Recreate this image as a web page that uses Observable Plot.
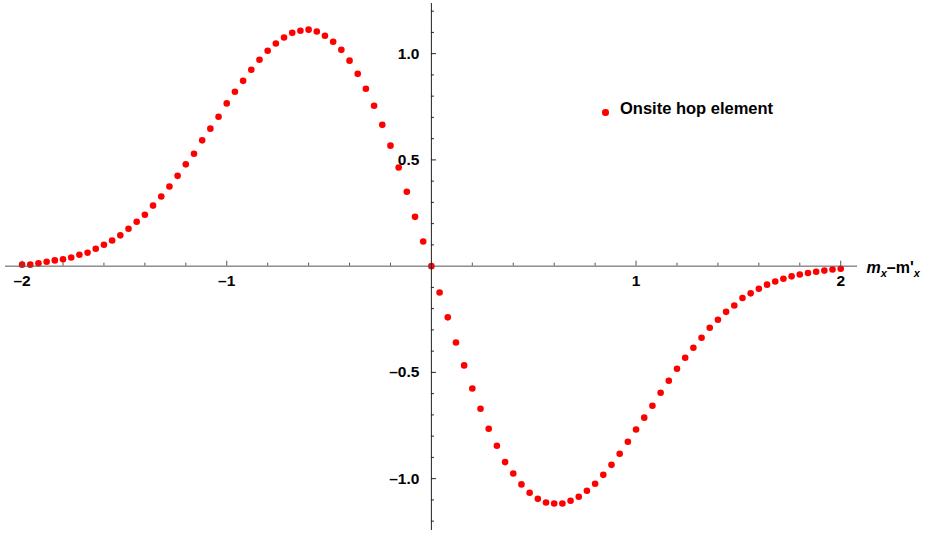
<!DOCTYPE html>
<html>
<head>
<meta charset="utf-8">
<script src="https://cdn.jsdelivr.net/npm/d3@7"></script>
<script src="https://cdn.jsdelivr.net/npm/@observablehq/plot@0.6"></script>
<style>
  body { margin: 0; background: #fff; }
  #chart { position: relative; width: 925px; height: 534px; }
  #chart svg { display: block; }
  .legend-dot { position: absolute; left: 602px; top: 109px; width: 6.5px; height: 6.5px; border-radius: 50%; background: #ff0000; }
  .legend-text { position: absolute; left: 620px; top: 99px; line-height: 22px; font: bold 16.5px "Liberation Sans", Arial, sans-serif; color: #000; white-space: nowrap; }
</style>
</head>
<body>
<div id="chart">
  <div class="legend-dot"></div>
  <div class="legend-text">Onsite hop element</div>
</div>
<script>
// Sample positions m_x − m'_x
const xs = [
  -2.00, -1.96, -1.92, -1.88, -1.84, -1.80, -1.76, -1.72, -1.68, -1.64,
  -1.60, -1.56, -1.52, -1.48, -1.44, -1.40, -1.36, -1.32, -1.28, -1.24,
  -1.20, -1.16, -1.12, -1.08, -1.04, -1.00, -0.96, -0.92, -0.88, -0.84,
  -0.80, -0.76, -0.72, -0.68, -0.64, -0.60, -0.56, -0.52, -0.48, -0.44,
  -0.40, -0.36, -0.32, -0.28, -0.24, -0.20, -0.16, -0.12, -0.08, -0.04,
   0.00,  0.04,  0.08,  0.12,  0.16,  0.20,  0.24,  0.28,  0.32,  0.36,
   0.40,  0.44,  0.48,  0.52,  0.56,  0.60,  0.64,  0.68,  0.72,  0.76,
   0.80,  0.84,  0.88,  0.92,  0.96,  1.00,  1.04,  1.08,  1.12,  1.16,
   1.20,  1.24,  1.28,  1.32,  1.36,  1.40,  1.44,  1.48,  1.52,  1.56,
   1.60,  1.64,  1.68,  1.72,  1.76,  1.80,  1.84,  1.88,  1.92,  1.96,
   2.00
];

// Onsite hop element at each position
const hop = [
  0.007, 0.007, 0.014, 0.021, 0.027, 0.032, 0.041, 0.054, 0.063, 0.082,
  0.101, 0.121, 0.145, 0.176, 0.209, 0.242, 0.285, 0.328, 0.375, 0.425,
  0.479, 0.529, 0.592, 0.647, 0.703, 0.766, 0.821, 0.872, 0.924, 0.971,
  1.014, 1.048, 1.076, 1.098, 1.108, 1.113, 1.104, 1.084, 1.056, 1.018,
  0.967, 0.905, 0.835, 0.755, 0.665, 0.567, 0.464, 0.350, 0.232, 0.116,
  0.000, -0.124, -0.241, -0.359, -0.467, -0.576, -0.671, -0.765, -0.845, -0.922,
  -0.976, -1.027, -1.066, -1.095, -1.112, -1.117, -1.117, -1.104, -1.085, -1.057,
  -1.024, -0.982, -0.935, -0.883, -0.826, -0.769, -0.713, -0.657, -0.596, -0.539,
  -0.483, -0.431, -0.384, -0.337, -0.290, -0.252, -0.215, -0.185, -0.150, -0.128,
  -0.106, -0.087, -0.072, -0.059, -0.048, -0.039, -0.032, -0.026, -0.021, -0.016,
  -0.012
];

// Axis ticks and labels
const xMajorTicks = [-2, -1, 1, 2];
const xMajorLabels = ["–2", "–1", "1", "2"];
const xMinorTicks = [-1.8, -1.6, -1.4, -1.2, -0.8, -0.6, -0.4, -0.2, 0.2, 0.4, 0.6, 0.8, 1.2, 1.4, 1.6, 1.8];
const yMajorTicks = [-1, -0.5, 0.5, 1];
const yMajorLabels = ["–1.0", "–0.5", "0.5", "1.0"];
const yMinorTicks = [-1.2, -1.1, -0.9, -0.8, -0.7, -0.6, -0.4, -0.3, -0.2, -0.1, 0.1, 0.2, 0.3, 0.4, 0.6, 0.7, 0.8, 0.9, 1.1, 1.2];

const points = xs.map((x, i) => ({x, y: hop[i]}));

const font = '"Liberation Sans", Arial, Helvetica, sans-serif';
const axisColor = "#555";
const zero = () => 0;

const chart = Plot.plot({
  width: 925,
  height: 534,
  marginLeft: 5,
  marginRight: 68,
  marginTop: 3,
  marginBottom: 4,
  x: {domain: [-2.081, 2.082], axis: null},
  y: {domain: [-1.244, 1.236], axis: null},
  style: {fontFamily: font, background: "#fff", overflow: "visible"},
  marks: [
    Plot.dot(points, {x: "x", y: "y", r: 3.3, fill: "#ff0000", stroke: "none"}),
    // axes through the origin
    Plot.ruleY([0], {stroke: axisColor, strokeWidth: 1}),
    Plot.ruleX([0], {stroke: "#222", strokeWidth: 1}),
    // x ticks point up from the axis
    Plot.ruleX(xMinorTicks, {x: d => d, y1: zero, y2: zero, insetTop: -3, stroke: axisColor}),
    Plot.ruleX(xMajorTicks, {x: d => d, y1: zero, y2: zero, insetTop: -5, stroke: axisColor}),
    // y ticks point right from the axis
    Plot.ruleY(yMinorTicks, {y: d => d, x1: zero, x2: zero, insetRight: -3, stroke: "#222"}),
    Plot.ruleY(yMajorTicks, {y: d => d, x1: zero, x2: zero, insetRight: -5, stroke: "#222"}),
    // tick labels
    Plot.text(xMajorTicks, {
      x: d => d, y: zero, text: (d, i) => xMajorLabels[i],
      dy: 15, fontSize: 15.5, fontWeight: "bold", fill: "#000"
    }),
    Plot.text(yMajorTicks, {
      x: zero, y: d => d, text: (d, i) => yMajorLabels[i],
      dx: -12, textAnchor: "end", fontSize: 15.5, fontWeight: "bold", fill: "#000"
    }),
    // axis name at the right end of the x axis
    Plot.text(["m"], {
      x: () => 2.082, y: zero, text: d => d,
      dx: 9, dy: 2, textAnchor: "start", fontSize: 16, fontWeight: "bold", fill: "#000"
    })
  ]
});

// Rich label m_x − m'_x with subscripts
d3.select(chart).selectAll("text")
  .filter(function () { return this.textContent === "m"; })
  .each(function () {
    const t = d3.select(this);
    t.text(null);
    t.append("tspan").attr("font-style", "italic").text("m");
    t.append("tspan").attr("font-style", "italic").attr("font-size", 11).attr("dy", 4).text("x");
    t.append("tspan").attr("dy", -4).text("–m'");
    t.append("tspan").attr("font-style", "italic").attr("font-size", 11).attr("dy", 4).text("x");
  });

document.getElementById("chart").prepend(chart);
</script>
</body>
</html>
